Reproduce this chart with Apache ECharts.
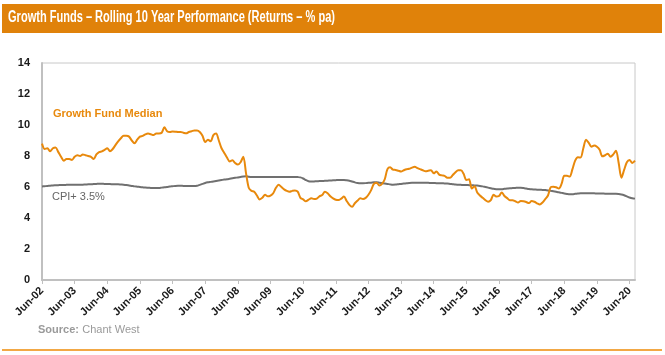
<!DOCTYPE html>
<html><head><meta charset="utf-8">
<script src="https://cdn.jsdelivr.net/npm/echarts@6/dist/echarts.min.js"></script>
<style>html,body{margin:0;padding:0;background:#fff}#c{width:665px;height:355px}</style>
</head><body><div id="c"></div>
<script>
var titleText = "Growth Funds \u2013 Rolling 10 Year Performance (Returns \u2013 % pa)";
var seriesNames = ["Growth Fund Median", "CPI+ 3.5%"];
var years = ["02","03","04","05","06","07","08","09","10","11","12","13","14","15","16","17","18","19","20"];
var monthNames = ["Jun","Jul","Aug","Sep","Oct","Nov","Dec","Jan","Feb","Mar","Apr","May"];
var yTicks = [0, 2, 4, 6, 8, 10, 12, 14];

var growthMedian = [
8.8,8.45,8.5,8.3,8.5,8.55,8.25,7.95,7.7,7.8,7.8,
7.75,7.95,8.05,8.0,8.1,8.05,8.0,7.95,7.8,8.1,
8.25,8.3,8.4,8.5,8.3,8.45,8.7,8.95,9.15,9.3,
9.3,9.25,9.0,8.82,9.05,9.25,9.3,9.4,9.45,9.4,
9.35,9.45,9.45,9.5,9.85,9.6,9.55,9.58,9.57,9.55,
9.55,9.5,9.46,9.55,9.6,9.65,9.65,9.55,9.3,8.9,
9.05,8.95,9.35,9.45,9.0,8.5,8.2,7.9,7.65,7.72,
7.55,7.45,7.6,7.95,6.9,5.95,5.75,5.7,5.45,5.2,
5.3,5.5,5.4,5.45,5.6,5.95,6.15,6.0,5.85,5.75,
5.7,5.75,5.78,5.7,5.3,5.2,5.08,5.18,5.27,5.22,
5.25,5.4,5.48,5.7,5.6,5.4,5.27,5.18,5.16,5.25,
5.38,5.1,4.85,4.72,4.95,5.12,5.27,5.22,5.3,5.5,
5.8,6.2,6.28,6.1,6.2,6.5,7.15,7.27,7.12,7.1,
7.05,7.0,7.08,7.15,7.18,7.25,7.31,7.22,7.15,7.08,
7.02,7.05,7.08,6.88,7.0,6.8,6.75,6.72,6.6,6.6,
6.77,6.95,7.08,7.08,6.85,6.45,6.5,5.9,6.05,5.65,
5.45,5.3,5.15,5.05,5.15,5.5,5.38,5.42,5.65,5.42,
5.28,5.15,5.15,5.08,5.0,5.1,5.08,5.03,4.96,5.1,
5.05,4.95,4.87,5.0,5.22,5.45,5.98,6.02,5.98,5.9,
6.2,6.72,6.72,6.67,7.15,7.7,7.92,7.9,8.5,9.05,
8.85,8.6,8.68,8.6,8.4,7.98,8.05,8.15,7.95,8.1,
8.34,7.55,6.6,7.1,7.6,7.75,7.55,7.7
];

var cpiPlus = [
6.03,6.05,6.07,6.08,6.1,6.11,6.12,6.13,6.13,6.14,6.15,
6.15,6.15,6.14,6.14,6.15,6.16,6.17,6.18,6.19,6.2,
6.21,6.21,6.2,6.2,6.19,6.18,6.17,6.17,6.16,6.15,
6.13,6.1,6.07,6.04,6.02,6.0,5.98,5.96,5.95,5.94,
5.93,5.93,5.94,5.96,5.98,6.0,6.03,6.05,6.07,6.08,
6.08,6.07,6.07,6.06,6.06,6.06,6.08,6.14,6.2,6.26,
6.3,6.33,6.36,6.39,6.42,6.45,6.48,6.5,6.53,6.56,
6.59,6.62,6.65,6.68,6.7,6.66,6.64,6.64,6.64,6.65,
6.65,6.65,6.65,6.65,6.65,6.65,6.65,6.65,6.65,6.65,
6.65,6.65,6.65,6.64,6.62,6.55,6.45,6.37,6.35,6.36,
6.37,6.38,6.39,6.4,6.41,6.42,6.43,6.44,6.45,6.45,
6.45,6.43,6.4,6.35,6.3,6.26,6.24,6.24,6.25,6.27,
6.28,6.3,6.3,6.28,6.25,6.22,6.2,6.17,6.15,6.16,
6.18,6.2,6.22,6.24,6.26,6.27,6.27,6.27,6.27,6.27,
6.27,6.27,6.26,6.26,6.25,6.25,6.24,6.23,6.22,6.2,
6.18,6.16,6.15,6.14,6.13,6.13,6.12,6.11,6.1,6.09,
6.07,6.04,6.0,5.96,5.92,5.88,5.86,5.85,5.86,5.88,
5.9,5.92,5.93,5.94,5.95,5.95,5.93,5.9,5.87,5.85,
5.84,5.83,5.82,5.81,5.8,5.78,5.75,5.72,5.69,5.66,
5.62,5.58,5.55,5.53,5.54,5.56,5.58,5.6,5.6,5.6,
5.6,5.59,5.59,5.58,5.58,5.58,5.57,5.57,5.57,5.56,
5.56,5.55,5.52,5.47,5.4,5.32,5.27,5.25
];

// monthly category labels Jun-02 .. Aug-20
var categories = [];
for (var i = 0; i < growthMedian.length; i++) {
  var mi = i % 12;
  var yi = Math.floor(i / 12) + (mi >= 7 ? 1 : 0);
  var yy = String(2 + yi).padStart(2, "0");
  categories.push(monthNames[mi] + "-" + yy);
}

var chart = echarts.init(document.getElementById("c"), null, {renderer: "canvas"});
var option = {
  backgroundColor: "#fff",
  animation: false,
  grid: {left: 42, right: 30, top: 63, bottom: 75, show: true, borderColor: "#c8c8c8", borderWidth: 1, backgroundColor: "transparent"},
  xAxis: {
    type: "category", data: categories, boundaryGap: false,
    axisLine: {lineStyle: {color: "#c0c0c0", width: 2}},
    axisTick: {show: true, interval: 11, length: 4, lineStyle: {color: "#c0c0c0"}},
    axisLabel: {interval: 11, rotate: 45, fontFamily: "Liberation Sans, Arial", fontWeight: "bold", fontSize: 11, color: "#1a1a1a", margin: 9},
    splitLine: {show: false}
  },
  yAxis: {
    type: "value", min: yTicks[0], max: yTicks[yTicks.length - 1], interval: 2,
    axisLine: {show: true, lineStyle: {color: "#c0c0c0", width: 2}},
    axisTick: {show: false},
    axisLabel: {fontFamily: "Liberation Sans, Arial", fontWeight: "bold", fontSize: 11, color: "#1a1a1a", margin: 12},
    splitLine: {show: false}
  },
  series: [
    {name: seriesNames[0], type: "line", data: growthMedian, showSymbol: false, smooth: 0.3,
     lineStyle: {color: "#E8890C", width: 2}, itemStyle: {color: "#E8890C"}, z: 3},
    {name: seriesNames[1], type: "line", data: cpiPlus, showSymbol: false, smooth: 0.3,
     lineStyle: {color: "#707070", width: 2}, itemStyle: {color: "#707070"}, z: 2}
  ],
  graphic: [
    {type: "rect", left: 2, top: 4, shape: {width: 660, height: 29}, style: {fill: "#E0820A"}, silent: true},
    {type: "text", x: 8, y: 10, scaleX: 0.69, style: {text: titleText, fill: "#fff", font: "bold 16px 'Liberation Sans', Arial, sans-serif"}},
    {type: "text", left: 53, top: 108, style: {text: seriesNames[0], fill: "#E8890C", font: "bold 11px 'Liberation Sans', Arial, sans-serif"}},
    {type: "text", left: 52, top: 191, style: {text: seriesNames[1], fill: "#666", font: "11px 'Liberation Sans', Arial, sans-serif"}},
    {type: "text", left: 38, top: 324, style: {rich: {b: {font: "bold 11px 'Liberation Sans', Arial, sans-serif", fill: "#9a9a9a"}, n: {font: "11px 'Liberation Sans', Arial, sans-serif", fill: "#9a9a9a"}}, text: "{b|Source:} {n|Chant West}"}},
    {type: "rect", left: 2, top: 349, shape: {width: 660, height: 2}, style: {fill: "#F2A845"}, silent: true}
  ]
};
chart.setOption(option);
</script></body></html>
